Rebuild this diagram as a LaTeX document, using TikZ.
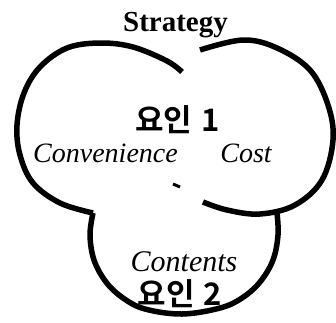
\documentclass[tikz,border=0pt]{standalone}
\usepackage{fontspec}
\setmainfont{Liberation Serif}
\newfontfamily\kr{Noto Sans CJK KR}[BoldFont={Noto Sans CJK KR Bold}]
\begin{document}
\begin{tikzpicture}[x=1pt,y=-1pt,
  arcline/.style={line width=5.5pt,line cap=butt,line join=round},
  lbl/.style={inner sep=0pt,anchor=base,font=#1},
  lbl/.default={}]
\useasboundingbox (0,0) rectangle (336,322);
% left big circle
\draw[arcline] plot[smooth,tension=0.6] coordinates {(182,72) (167,61) (133,47) (100,43) (67,48) (40,67) (24,93) (17,125) (20,155) (33,183) (60,203) (93,213)};
% right big circle
\draw[arcline] plot[smooth,tension=0.6] coordinates {(200,50) (243,40) (277,48) (310,70) (328,105) (333,140) (322,180) (295,205) (260,214) (227,210) (203,202)};
% bottom circle
\draw[arcline] plot[smooth,tension=0.6] coordinates {(93,213) (90,235) (94,260) (106,282) (123,298) (145,309) (182,314) (220,308) (242,298) (260,282) (273,260) (278,235) (277,213)};
% small stray mark
\draw[line width=3pt] (173,184) -- (180,187);
% texts
\node[lbl={\fontsize{29}{29}\selectfont\bfseries}] (strategy) at (175.5,31) {Strategy};
\node[lbl={\kr\fontsize{31}{31}\selectfont\bfseries}] (f1) at (177.5,131) {요인\hspace{9pt}1};
\node[lbl={\fontsize{28}{28}\selectfont\itshape}] (conv) at (105.5,162) {Convenience};
\node[lbl={\fontsize{28}{28}\selectfont\itshape}] (cost) at (246,162) {Cost};
\node[lbl={\fontsize{30}{30}\selectfont\itshape}] (cont) at (184,271) {Contents};
\node[lbl={\kr\fontsize{31}{31}\selectfont\bfseries}] (f2) at (180,305) {요인\hspace{9pt}2};
\end{tikzpicture}
\end{document}
